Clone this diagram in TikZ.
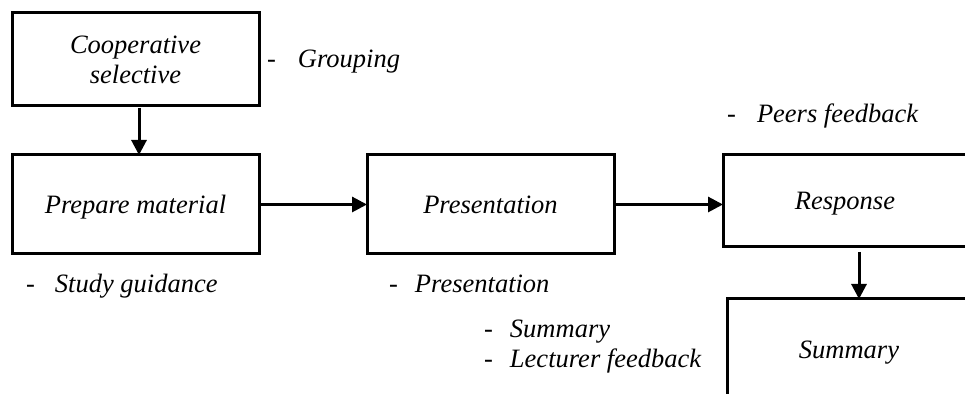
\documentclass[tikz,border=0pt]{standalone}
\usepackage{fontspec}
\setmainfont{Liberation Serif}
\usetikzlibrary{arrows.meta}
\begin{document}
\begin{tikzpicture}[x=0.5pt,y=-0.5pt,
  every node/.style={font=\fontsize{13.25}{15}\selectfont\itshape},
  stage/.style={draw=black,line width=1.5pt,line join=miter,inner sep=0pt,outer sep=0pt,align=center},
  oneline/.style={text height=8.7pt,text depth=0pt},
  note/.style={anchor=base west,inner sep=0pt,outer sep=0pt},
  arr/.style={line width=1.5pt,-{Triangle[length=7.5pt,width=7.5pt]}}]
\useasboundingbox (0,0) rectangle (965,394);
\clip (0,0) rectangle (965,394);
% boxes
\node[stage,minimum width=123.5pt,minimum height=46.5pt] (b1) at (135.5,59.5) {Cooperative\\selective};
\node[stage,oneline,minimum width=123.5pt,minimum height=49.5pt] (b2) at (135.5,204.5) {Prepare material};
\node[stage,oneline,minimum width=123.5pt,minimum height=49.5pt] (b3) at (490.5,204.5) {Presentation};
\node[stage,oneline,minimum width=122pt,minimum height=46pt] (b4) at (845,201) {Response};
\node[stage,oneline,minimum width=122pt,minimum height=51pt] (b5) at (849,350) {Summary};
% notes
\node[note] (n1) at (267,68) {\makebox[15.5pt][l]{-}Grouping};
\node[note] (n2) at (727,123) {\makebox[15pt][l]{-}Peers feedback};
\node[note] (n3) at (26,293) {\makebox[14.5pt][l]{-}Study guidance};
\node[note] (n4) at (389,293) {\makebox[13pt][l]{-}Presentation};
\node[note] (n5) at (484,338) {\makebox[13pt][l]{-}Summary};
\node[note] (n6) at (484,368) {\makebox[13pt][l]{-}Lecturer feedback};
% arrows
\draw[arr] ([xshift=1.75pt,yshift=-1pt]b1.south) -- ([xshift=1.75pt]b2.north);
\draw[arr] ([xshift=1pt]b2.east) -- (b3.west);
\draw[arr] ([xshift=1pt]b3.east) -- (b3.east -| b4.west);
\draw[arr] ([xshift=7pt,yshift=-2.5pt]b4.south) -- ([xshift=7pt]b4.south |- b5.north);
\end{tikzpicture}
\end{document}
